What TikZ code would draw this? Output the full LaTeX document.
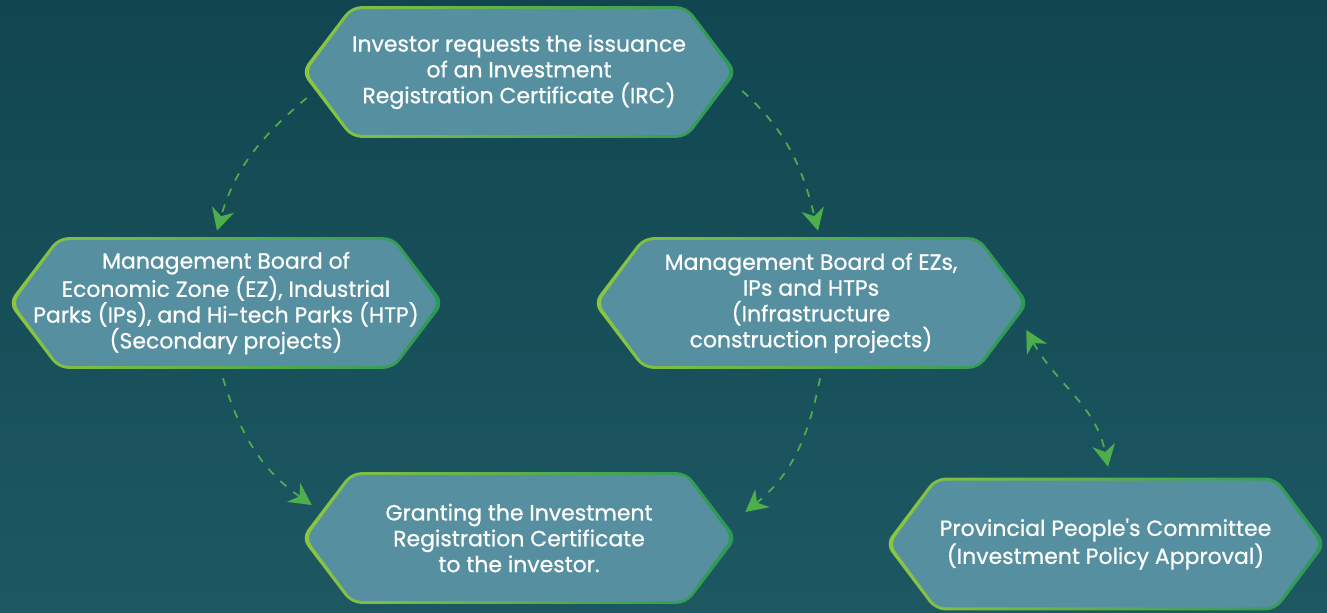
\documentclass[tikz,border=0pt]{standalone}
\usepackage{fontspec}
\setmainfont{Poppins}
\newfontfamily\boxfont{Poppins}[FakeBold=0.7]
\usetikzlibrary{arrows.meta,backgrounds}

\definecolor{bgtop}{HTML}{114650}
\definecolor{bgbot}{HTML}{1D5862}
\definecolor{boxfill}{HTML}{5690A0}
\definecolor{rimleft}{HTML}{8CC63F}
\definecolor{rimright}{HTML}{2A9858}
\definecolor{flow}{HTML}{4DAE4C}

\tikzset{
  stepbox/.style={minimum width=8.7cm, minimum height=2.62cm, inner sep=0pt,
    align=center, text=white, font=\boxfont\fontsize{12.5}{14.7}\selectfont},
  flowtip/.tip={Stealth[length=4.4mm,width=4.6mm,inset=1.4mm]},
  flowline/.style={flow, line width=0.35mm, dash pattern=on 1.6mm off 1.8mm, -flowtip},
  flowboth/.style={flowline, flowtip-flowtip},
}

\begin{document}
\begin{tikzpicture}[x=0.02cm, y=-0.02cm]
\def\hexpath#1#2{([xshift=1.65*#2]#1.west) -- ([xshift=1cm+0.5*#2,yshift=-#2]#1.north west)
  -- ([xshift=-1cm-0.5*#2,yshift=-#2]#1.north east) -- ([xshift=-1.65*#2]#1.east)
  -- ([xshift=-1cm-0.5*#2,yshift=#2]#1.south east) -- ([xshift=1cm+0.5*#2,yshift=#2]#1.south west) -- cycle}

\useasboundingbox (0,0) rectangle (1327,612);

\node[stepbox] (irc) at (519,72) {Investor requests the issuance\\ of an Investment\\ Registration Certificate (IRC)};
\node[stepbox] (ezb) at (226,303) {Management Board of\\ Economic Zone (EZ), Industrial\\ Parks (IPs), and Hi-tech Parks (HTP)\\ (Secondary projects)};
\node[stepbox] (infra) at (811,303) {Management Board of EZs,\\ IPs and HTPs\\ (Infrastructure\\ construction projects)};
\node[stepbox] (grant) at (519,538) {Granting the Investment\\ Registration Certificate\\ to the investor.};
\node[stepbox, minimum width=8.8cm, minimum height=2.64cm] (ppc) at (1105.5,544) {Provincial People\textquotesingle s Committee\\ (Investment Policy Approval)};

\begin{scope}[on background layer] % page and box outlines
\shade[top color=bgtop, bottom color=bgbot] (0,0) rectangle (1327,612);
\foreach \n in {irc,ezb,infra,grant,ppc} {
  \shade[left color=rimleft, right color=rimright, rounded corners=2mm] \hexpath{\n}{0mm};
  \fill[boxfill, rounded corners=1.7mm] \hexpath{\n}{0.6mm};
}
\end{scope}

\draw[flowline] ([shift={(5.5,26)}]irc.west) to[out=220,in=74] ([shift={(-9,-6.5)}]ezb.north);
\draw[flowline] ([shift={(5.5,19)}]irc.east) to[out=-42,in=104] ([shift={(7,-6.5)}]infra.north);
\draw[flowline] ([shift={(-3,9.5)}]ezb.south) to[out=-73,in=145] ([shift={(10.5,-33)}]grant.west);
\draw[flowline] ([shift={(9,9.5)}]infra.south) to[out=259,in=39] ([shift={(8.5,-26)}]grant.east);
\draw[flowboth] ([shift={(-2.5,27)}]infra.east) to[out=-61,in=101] ([shift={(2.5,-11)}]ppc.north);
\end{tikzpicture}
\end{document}
